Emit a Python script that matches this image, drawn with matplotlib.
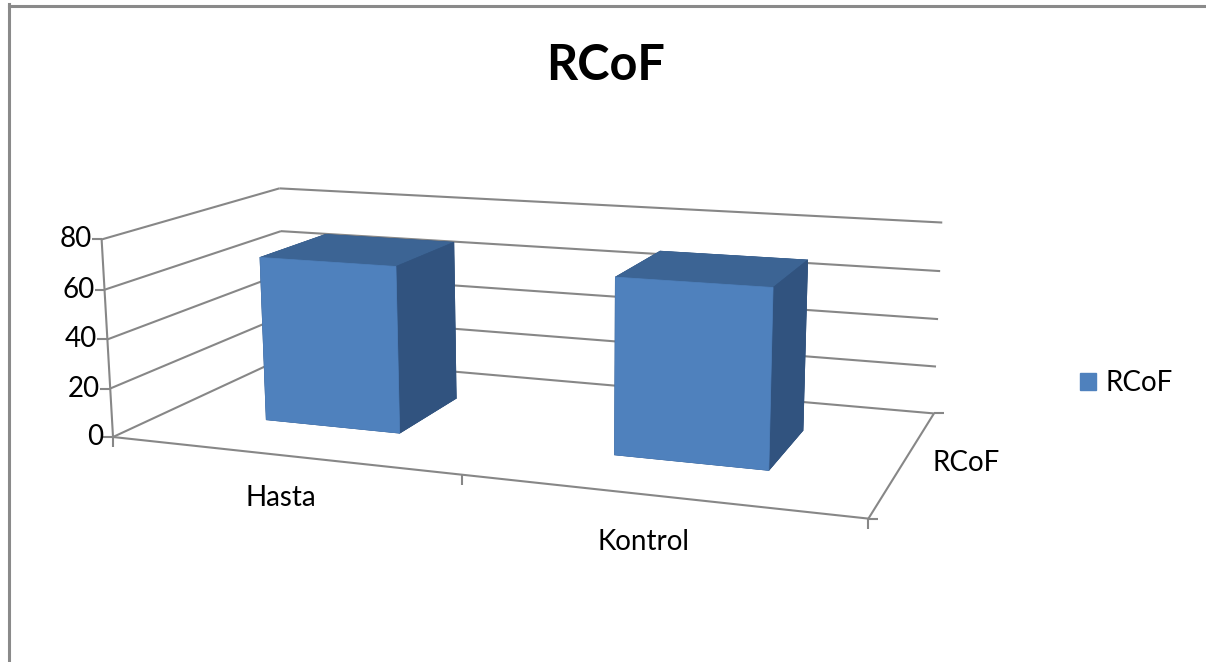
import numpy as np
import matplotlib
matplotlib.use('Agg')
import matplotlib.pyplot as plt
from matplotlib.lines import Line2D
from matplotlib.patches import Patch

# ---------------- data ----------------
title = 'RCoF'
series_name = 'RCoF'
categories = ['Hasta', 'Kontrol']
values = [68, 69.5]
z_ticks = [0, 20, 40, 60, 80]

# ---------------- style ----------------
W_PX, H_PX = 1206, 662
plt.rcParams['font.family'] = ['Lato', 'DejaVu Sans']
GRID = '#878787'
FRONT = '#4F81BD'
TOP = '#3C6494'
SIDE = '#31537F'
LABEL_PT = 20
CAT_LABEL_NUDGE = [(0, 0), (-14, -3)]   # pixel nudges for category labels

fig = plt.figure(figsize=(W_PX / 100, H_PX / 100), dpi=100)
fig.patch.set_facecolor('white')
S0 = 600.0
ax = fig.add_axes([0.1, 0.05, S0 / W_PX, S0 / H_PX], projection='3d')
ax.set_axis_off()
ax.computed_zorder = False

n = len(categories)
x0, x1 = -0.5, n - 0.5
y0, y1 = -0.5, 0.5
zmin, zmax = z_ticks[0], z_ticks[-1]


def line3(xs, ys, zs):
    ln, = ax.plot(xs, ys, zs, color=GRID, lw=1.5, zorder=1,
                  solid_capstyle='butt')
    ln.set_clip_on(False)


for z in z_ticks:
    line3([x0, x1], [y1, y1], [z, z])   # back wall gridline
    line3([x0, x0], [y0, y1], [z, z])   # side wall gridline
line3([x0, x0], [y0, y0], [zmin, zmax])  # value axis
line3([x0, x1], [y0, y0], [zmin, zmin])  # category axis
line3([x1, x1], [y0, y1], [zmin, zmin])  # depth axis

bar_w, bar_d = 0.4, 0.4
face_cols = [SIDE, TOP, FRONT, SIDE, SIDE, SIDE] * n
bars = ax.bar3d(np.arange(n) - bar_w / 2, np.full(n, -bar_d / 2), np.zeros(n),
                np.full(n, bar_w), np.full(n, bar_d), values,
                color=face_cols, edgecolor=face_cols, linewidth=0.5,
                shade=False, zorder=2)
bars.set_clip_on(False)

ax.set_xlim(x0, x1)
ax.set_ylim(y0, y1)
ax.set_zlim(zmin, zmax)
ax.apply_aspect()

# ---------- fit the camera so the chart frame lands where the reference has it ----------
frame_pts = np.array([
    [x0, y0, zmin], [x0, y0, zmax], [x0, y1, zmin], [x0, y1, zmax],
    [x1, y1, zmin], [x1, y1, zmax], [x1, y0, zmin], [x0 + 1, y0, zmin]], float)
frame_px = np.array([[115, 437], [103, 240], [282, 359], [282, 186],
                     [932, 411], [945, 224], [870, 517], [457, 477]], float)
frame_px[:, 1] = H_PX - frame_px[:, 1]


def set_cam(p):
    elev, azim, roll, lf, la, lz = p
    ax.view_init(elev=elev, azim=azim, roll=roll)
    ax.set_box_aspect((2.0, np.exp(la), np.exp(lz)))
    ax.set_proj_type('persp', focal_length=float(np.exp(lf)))


def proj_px(pts):
    M = ax.get_proj()
    h = np.c_[pts, np.ones(len(pts))] @ M.T
    return ax.transData.transform(h[:, :2] / h[:, 3:4])


def sim_fit(pix):
    pm, tm = pix.mean(0), frame_px.mean(0)
    pc, tc = pix - pm, frame_px - tm
    k = (pc * tc).sum() / (pc * pc).sum()
    t = tm - k * pm
    return ((k * pix + t - frame_px) ** 2).sum(), k, t


def cost(p):
    if not (0.03 < np.exp(p[3]) < 20) or abs(p[4]) > 3 or abs(p[5]) > 3:
        return 1e12
    set_cam(p)
    pix = proj_px(frame_pts)
    if not np.all(np.isfinite(pix)):
        return 1e12
    r, k, t = sim_fit(pix)
    if k <= 0:
        return 1e12
    return r


def nelder_mead(f, x, step, iters):
    x = np.asarray(x, float)
    pts = [x] + [x + np.eye(len(x))[i] * step[i] for i in range(len(x))]
    vals = [f(q) for q in pts]
    for _ in range(iters):
        order = np.argsort(vals)
        pts = [pts[i] for i in order]
        vals = [vals[i] for i in order]
        c = np.mean(pts[:-1], axis=0)
        xr = c + (c - pts[-1]); fr = f(xr)
        if fr < vals[0]:
            xe = c + 2 * (c - pts[-1]); fe = f(xe)
            if fe < fr:
                pts[-1], vals[-1] = xe, fe
            else:
                pts[-1], vals[-1] = xr, fr
        elif fr < vals[-2]:
            pts[-1], vals[-1] = xr, fr
        else:
            xc = c + 0.5 * (pts[-1] - c); fc = f(xc)
            if fc < vals[-1]:
                pts[-1], vals[-1] = xc, fc
            else:
                for i in range(1, len(pts)):
                    pts[i] = pts[0] + 0.5 * (pts[i] - pts[0])
                    vals[i] = f(pts[i])
    i = int(np.argmin(vals))
    return pts[i], vals[i]


best, best_v = None, np.inf
step = [5, 8, 2, 0.5, 0.4, 0.4]
for e0 in (12, 22):
    for a0 in (-60, -75):
        for f0 in (0.2, 0.5):
            p, v = nelder_mead(cost, [e0, a0, 0, np.log(f0), 0.0, 0.2], step, 400)
            if v < best_v:
                best, best_v = p, v
best, best_v = nelder_mead(cost, best, [1, 1, 0.5, 0.1, 0.1, 0.1], 800)

set_cam(best)
_, k, t = sim_fit(proj_px(frame_pts))
bb = ax.get_position()
left = k * bb.x0 * W_PX + t[0]
bottom = k * bb.y0 * H_PX + t[1]
size = k * bb.width * W_PX
ax.set_position([left / W_PX, bottom / H_PX, size / W_PX, size / H_PX])
ax.apply_aspect()


def px(x, y, z):
    return proj_px(np.array([[x, y, z]], float))[0]


def fig_line(xs, ys):
    fig.add_artist(Line2D(np.asarray(xs) / W_PX, np.asarray(ys) / H_PX,
                          transform=fig.transFigure, color=GRID, lw=1.5,
                          solid_capstyle='butt'))


def fig_text(xp, yp, s, **kw):
    fig.text(xp / W_PX, yp / H_PX, s, fontsize=LABEL_PT, color='black', **kw)


# value axis ticks + labels
for z in z_ticks:
    p = px(x0, y0, z)
    fig_line([p[0] - 10, p[0]], [p[1], p[1]])
    fig_text(p[0] - 10, p[1], f'{z}', ha='right', va='center')

# category ticks + labels
for i in range(n + 1):
    p = px(x0 + i, y0, zmin)
    fig_line([p[0], p[0]], [p[1], p[1] - 10])
for i, c in enumerate(categories):
    p = px(i, y0, zmin)
    dx, dy = CAT_LABEL_NUDGE[i]
    fig_text(p[0] + dx, p[1] - 43 + dy, c, ha='center', va='center')

# depth axis ticks + label
for yy in (y0, y1):
    p = px(x1, yy, zmin)
    fig_line([p[0], p[0] + 10], [p[1], p[1]])
p = px(x1, 0.5 * (y0 + y1), zmin)
fig_text(p[0] + 28, p[1] - 2, series_name, ha='left', va='center')

# title
fig.text(606 / W_PX, 1 - 66 / H_PX, title, ha='center', va='center',
         fontsize=35, fontweight='bold', color='black')

# legend
fig.legend(handles=[Patch(facecolor=FRONT, edgecolor=FRONT, label=series_name)],
           loc='center left', bbox_to_anchor=(1080 / W_PX, 1 - 383 / H_PX),
           frameon=False, fontsize=LABEL_PT, handlelength=0.58, handleheight=0.58,
           handletextpad=0.35, borderpad=0, borderaxespad=0)

# outer chart border (top and left visible)
fig.add_artist(Line2D([8.5 / W_PX, 8.5 / W_PX], [0, 1 - 4 / H_PX],
                      transform=fig.transFigure, color='#8a8a8a', lw=2.2))
fig.add_artist(Line2D([8.5 / W_PX, 1], [1 - 5.5 / H_PX, 1 - 5.5 / H_PX],
                      transform=fig.transFigure, color='#8a8a8a', lw=2.2))

fig.savefig('out.png', dpi=100, facecolor='white')
